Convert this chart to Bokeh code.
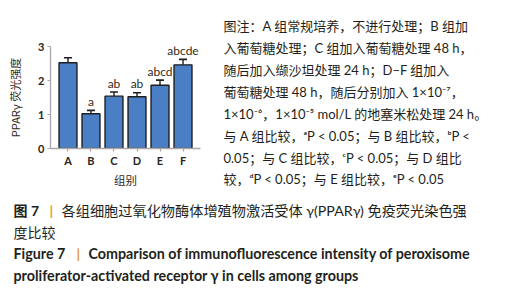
from bokeh.plotting import figure
from bokeh.models import FactorRange, Range1d, FixedTicker, ColumnDataSource
from bokeh.layouts import column, row
from bokeh.core.properties import value
from bokeh.embed import file_html
from bokeh.resources import INLINE

# ---- data ----
groups = ["A", "B", "C", "D", "E", "F"]
means = [2.52, 1.02, 1.54, 1.52, 1.86, 2.46]
errs = [0.15, 0.10, 0.12, 0.12, 0.15, 0.16]
sig_letters = ["", "a", "ab", "ab", "abcd", "abcde"]
y_ticks = [0, 1, 2, 3]
y_title = "PPARγ 荧光强度"
x_title = "组别"

note_lines = [
    "图注：A 组常规培养，不进行处理；B 组加",
    "入葡萄糖处理；C 组加入葡萄糖处理 48 h，",
    "随后加入缬沙坦处理 24 h；D–F 组加入",
    "葡萄糖处理 48 h，随后分别加入 1×10⁻⁷，",
    "1×10⁻⁶，1×10⁻⁵ mol/L 的地塞米松处理 24 h。",
    "与 A 组比较，ᵃP < 0.05；与 B 组比较，ᵇP <",
    "0.05；与 C 组比较，ᶜP < 0.05；与 D 组比",
    "较，ᵈP < 0.05；与 E 组比较，ᵉP < 0.05",
]
cap_cn_label = "图 7"
cap_cn_1 = "各组细胞过氧化物酶体增殖物激活受体 γ(PPARγ) 免疫荧光染色强"
cap_cn_2 = "度比较"
cap_en_label = "Figure 7"
cap_en_1 = "Comparison of immunofluorescence intensity of peroxisome"
cap_en_2 = "proliferator-activated receptor γ in cells among groups"

FONT = "Lato, 'Noto Sans CJK SC', sans-serif"
CJK = "'Noto Sans CJK SC', sans-serif"
TXT = "#231f20"
ORANGE = "#e59a2c"

# ---- chart ----
upper = [m + e for m, e in zip(means, errs)]
src = ColumnDataSource(dict(g=groups, m=means, up=upper, sig=sig_letters))

p = figure(width=210, height=190,
           x_range=FactorRange(*groups, range_padding=0.0867),
           y_range=Range1d(0, 3),
           min_border_left=50, min_border_right=10,
           min_border_top=46, min_border_bottom=36,
           frame_align=False,
           output_backend="svg", toolbar_location=None)
p.outline_line_color = None
p.grid.visible = False
p.background_fill_color = "white"
p.border_fill_color = "white"

p.segment(x0="g", y0="m", x1="g", y1="up", source=src,
          line_color="#1e1e1e", line_width=1.4)
p.scatter(x="g", y="up", source=src, marker="dash", size=8,
          line_color="#1e1e1e", line_width=1.6)
p.vbar(x="g", top="m", width=0.78, source=src,
       fill_color="#4a7fc6", line_color="#1e1e1e", line_width=1.4)
p.text(x="g", y="up", text="sig", source=src, y_offset=-1.5,
       text_align="center", text_baseline="bottom",
       text_font=value("Lato"), text_font_size="12px",
       text_color="#332a22")

for ax in (p.xaxis[0], p.yaxis[0]):
    ax.axis_line_color = "#a8a8a8"
    ax.axis_line_width = 1.3
    ax.major_tick_line_color = "#a8a8a8"
    ax.major_tick_line_width = 1.2
    ax.major_tick_out = 3
    ax.major_tick_in = 0
    ax.minor_tick_line_color = None
    ax.major_label_text_font = "Lato"
    ax.major_label_text_font_style = "bold"
    ax.major_label_text_font_size = "11px"
    ax.major_label_text_color = "#2a2520"
    ax.axis_label_text_font = CJK
    ax.axis_label_text_font_style = "normal"
    ax.axis_label_text_color = "#332a22"

p.yaxis[0].ticker = FixedTicker(ticks=y_ticks)
p.yaxis[0].major_label_standoff = 3
p.yaxis[0].axis_label = y_title
p.yaxis[0].axis_label_text_font_size = "11px"
p.yaxis[0].axis_label_standoff = 12
p.xaxis[0].major_label_standoff = 2
p.xaxis[0].axis_label = x_title
p.xaxis[0].axis_label_text_font_size = "11.5px"
p.xaxis[0].axis_label_standoff = 2

# ---- notes panel ----
n = figure(width=314, height=190, x_range=Range1d(0, 314), y_range=Range1d(190, 0),
           x_axis_type=None, y_axis_type=None, min_border=0, frame_align=False,
           output_backend="svg", toolbar_location=None)
n.outline_line_color = None
n.grid.visible = False
note_y = [25, 47.5, 69.5, 91.5, 113.5, 135.5, 157, 178.5]
n.text(x=[13] * len(note_lines), y=note_y, text=note_lines,
       text_font=value(FONT), text_font_size="13px", text_color=TXT,
       text_baseline="middle", text_align="left")

# ---- caption panel ----
c = figure(width=524, height=110, x_range=Range1d(0, 524), y_range=Range1d(110, 0),
           x_axis_type=None, y_axis_type=None, min_border=0, frame_align=False,
           output_backend="svg", toolbar_location=None)
c.outline_line_color = None
c.grid.visible = False
c.text(x=[13], y=[20], text=[cap_cn_label], text_font=value(FONT), text_font_style="bold",
       text_font_size="14px", text_color=TXT, text_baseline="middle")
c.text(x=[49], y=[20], text=["|"], text_font=value("Lato"), text_font_style="bold",
       text_font_size="14px", text_color=ORANGE, text_baseline="middle")
c.text(x=[61], y=[20], text=[cap_cn_1], text_font=value(FONT),
       text_font_size="14.2px", text_color=TXT, text_baseline="middle")
c.text(x=[13], y=[41.5], text=[cap_cn_2], text_font=value(FONT),
       text_font_size="14px", text_color=TXT, text_baseline="middle")
c.text(x=[13], y=[63], text=[cap_en_label], text_font=value(FONT), text_font_style="bold",
       text_font_size="14.3px", text_color=TXT, text_baseline="middle")
c.text(x=[76], y=[63], text=["|"], text_font=value("Lato"), text_font_style="bold",
       text_font_size="14px", text_color=ORANGE, text_baseline="middle")
c.text(x=[88], y=[63], text=[cap_en_1], text_font=value(FONT), text_font_style="bold",
       text_font_size="14.3px", text_color=TXT, text_baseline="middle")
c.text(x=[13], y=[85], text=[cap_en_2], text_font=value(FONT), text_font_style="bold",
       text_font_size="14.3px", text_color=TXT, text_baseline="middle")

layout = column(row(p, n), c)
open("out.html", "w").write(file_html(layout, INLINE))
